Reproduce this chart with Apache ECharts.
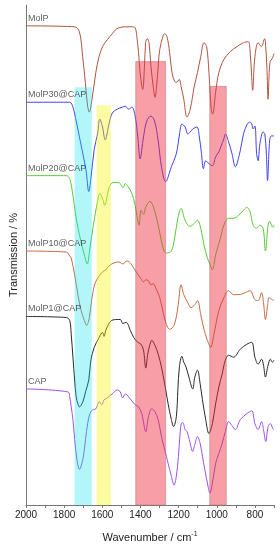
<!DOCTYPE html>
<html><head><meta charset="utf-8">
<script src="https://cdn.jsdelivr.net/npm/echarts@6/dist/echarts.min.js"></script>
<style>html,body{margin:0;padding:0;background:#fff}#c{width:280px;height:550px}</style>
</head><body><div id="c"></div>
<script>
// Series names (top to bottom)
const seriesNames = ['MolP', 'MolP30@CAP', 'MolP20@CAP', 'MolP10@CAP', 'MolP1@CAP', 'CAP'];

// [wavenumber (cm-1), offset transmission (a.u.)]
const molP = [[2000,483],[1746,482],[1720,477],[1703,452],[1689,426],[1677,402],[1668,396],[1654,409],[1634,436],[1617,452],[1599,462],[1574,469],[1548,475],[1531,479],[1514,481],[1479,482],[1445,482],[1428,481],[1419,472],[1410,456],[1402,436],[1393,422],[1388,419],[1379,442],[1373,466],[1364,470],[1355,466],[1345,442],[1333,422],[1324,411],[1311,432],[1299,459],[1281,473],[1273,475],[1261,472],[1247,456],[1235,436],[1221,427],[1210,426],[1197,429],[1187,422],[1173,409],[1156,391],[1139,399],[1118,422],[1101,436],[1084,452],[1067,466],[1053,462],[1041,436],[1029,399],[1022,394],[1006,416],[989,436],[963,449],[929,457],[895,462],[860,466],[835,467],[826,459],[817,432],[812,418],[800,452],[783,466],[766,462],[749,470],[745,467],[737,440],[731,409],[726,432],[720,447],[709,450],[700,455]];

const molP30 = [[2000,406],[1771,406],[1754,401],[1737,387],[1720,371],[1702,354],[1685,337],[1671,316],[1660,329],[1642,359],[1625,374],[1613,389],[1599,381],[1585,368],[1565,384],[1548,395],[1522,399],[1496,401],[1479,402],[1462,399],[1445,401],[1428,392],[1414,371],[1402,349],[1384,371],[1367,387],[1345,392],[1326,387],[1307,367],[1290,341],[1268,326],[1238,341],[1212,354],[1195,374],[1183,384],[1166,381],[1152,374],[1139,376],[1126,379],[1104,381],[1092,372],[1080,354],[1070,339],[1058,347],[1041,344],[1023,342],[1006,351],[989,356],[977,362],[963,369],[955,374],[938,366],[920,354],[903,341],[877,357],[860,374],[840,384],[826,386],[817,384],[809,379],[800,382],[791,354],[783,347],[774,364],[757,376],[748,374],[740,354],[734,327],[723,367],[714,372],[700,372]];

const molP20 = [[2000,332],[1789,332],[1771,329],[1754,312],[1737,289],[1716,269],[1694,252],[1679,243],[1665,259],[1647,282],[1625,306],[1613,314],[1599,309],[1587,302],[1574,312],[1562,321],[1544,325],[1513,325],[1500,322],[1491,320],[1479,324],[1465,321],[1445,314],[1428,302],[1419,292],[1407,282],[1397,297],[1384,293],[1371,301],[1350,306],[1333,301],[1307,282],[1290,266],[1276,256],[1264,254],[1238,256],[1221,269],[1204,289],[1187,299],[1170,289],[1152,282],[1135,281],[1118,284],[1101,287],[1084,279],[1067,262],[1049,249],[1032,241],[1023,237],[1006,252],[981,269],[963,282],[938,289],[912,289],[886,292],[860,297],[843,300],[826,296],[809,282],[791,279],[774,282],[757,279],[745,256],[731,282],[723,286],[706,280],[700,282]];

const molP10 = [[2000,256],[1789,255],[1771,251],[1763,249],[1745,232],[1728,212],[1711,196],[1694,186],[1682,181],[1668,189],[1654,209],[1637,224],[1616,231],[1599,235],[1582,237],[1565,241],[1539,244],[1513,245],[1493,243],[1470,246],[1453,244],[1436,239],[1419,234],[1397,228],[1384,225],[1372,227],[1358,226],[1347,222],[1333,223],[1316,217],[1299,209],[1281,194],[1264,182],[1247,177],[1224,181],[1204,199],[1187,222],[1173,212],[1152,204],[1135,199],[1115,202],[1101,206],[1084,192],[1067,177],[1049,166],[1032,159],[1015,172],[989,196],[963,209],[938,216],[912,212],[886,212],[851,214],[826,216],[800,207],[783,206],[765,214],[755,204],[745,187],[733,202],[726,209],[709,207],[700,206]];

const molP1 = [[2000,190],[1789,189],[1771,186],[1763,172],[1754,149],[1745,126],[1737,109],[1728,102],[1720,99],[1702,104],[1688,114],[1671,126],[1660,146],[1642,159],[1616,169],[1599,174],[1591,170],[1582,176],[1568,182],[1551,186],[1522,187],[1505,187],[1493,183],[1475,184],[1453,176],[1436,169],[1414,164],[1397,162],[1384,156],[1372,138],[1362,152],[1350,162],[1341,166],[1324,161],[1307,152],[1290,139],[1273,122],[1255,102],[1238,86],[1226,79],[1212,89],[1204,116],[1196,139],[1183,150],[1173,144],[1161,139],[1149,131],[1126,117],[1115,129],[1101,136],[1087,122],[1075,106],[1058,86],[1041,72],[1023,82],[1006,102],[989,119],[972,132],[955,146],[938,151],[912,149],[877,157],[843,162],[817,164],[800,149],[783,142],[765,147],[755,141],[745,129],[731,141],[719,147],[709,144],[700,146]];

const cap = [[2000,117],[1780,114],[1771,109],[1763,99],[1754,86],[1745,66],[1733,46],[1720,36],[1702,46],[1688,66],[1677,82],[1665,92],[1651,96],[1634,97],[1616,104],[1603,101],[1591,106],[1574,108],[1548,112],[1522,116],[1506,114],[1493,108],[1479,112],[1462,109],[1428,101],[1410,99],[1393,92],[1372,74],[1358,89],[1341,97],[1324,94],[1307,86],[1290,69],[1273,56],[1255,42],[1238,29],[1224,20],[1212,29],[1201,49],[1187,82],[1178,83],[1166,76],[1156,74],[1144,66],[1126,54],[1115,61],[1101,69],[1087,62],[1075,49],[1063,36],[1046,19],[1036,12],[1023,22],[1006,42],[989,52],[972,62],[955,74],[938,84],[920,80],[903,76],[877,86],[843,92],[817,95],[800,82],[783,76],[765,84],[755,76],[743,64],[731,79],[719,82],[702,76],[700,76]];

// Highlighted bands: [from cm-1, to cm-1, top value]
const cyanBand = [1745, 1655, 421];
const yellowBand = [1630, 1555, 403];
const redBands = [[1425, 1268, 447], [1037, 950, 422]];

// x-axis labelled ticks
const xTickLabels = [2000, 1800, 1600, 1400, 1200, 1000, 800];

const allSeries = [molP, molP30, molP20, molP10, molP1, cap];
const colors = ['#b25440', '#4242ea', '#58cc36', '#c86a46', '#2a2a2a', '#9b52ee'];

const font = 'Liberation Sans, Arial, sans-serif';
const chart = echarts.init(document.getElementById('c'), null, {renderer: 'canvas'});

function area(b, color, border) {
  return [{xAxis: b[0], yAxis: b[2], itemStyle: {color: color, borderColor: border || 'transparent', borderWidth: border ? 1 : 0}}, {xAxis: b[1], yAxis: 0}];
}

const series = allSeries.map((d, i) => ({
  name: seriesNames[i],
  type: 'line',
  data: d,
  showSymbol: false,
  symbol: 'none',
  smooth: 0.35,
  z: 2,
  lineStyle: {color: colors[i], width: 1},
  itemStyle: {color: colors[i]}
}));

series.push({
  name: 'bands',
  type: 'line',
  data: [],
  symbol: 'none',
  markArea: {
    silent: true,
    z: 5,
    data: [
      area(cyanBand, 'rgba(0,225,240,0.30)'),
      area(yellowBand, 'rgba(250,245,0,0.37)'),
      ...redBands.map(b => area(b, 'rgba(240,40,60,0.45)', 'rgba(170,110,110,0.45)'))
    ]
  }
});

series.push({
  name: 'labels',
  type: 'scatter',
  symbolSize: 0,
  z: 6,
  data: allSeries.map((d, i) => ({value: d[0], name: seriesNames[i]})),
  label: {
    show: true,
    formatter: '{b}',
    position: [2, -12],
    fontSize: 9,
    fontFamily: font,
    color: '#333'
  }
});

chart.setOption({
  animation: false,
  backgroundColor: '#fff',
  grid: {left: 22, right: 6, top: 5, bottom: 41, containLabel: false},
  xAxis: {
    type: 'value',
    inverse: true,
    min: 700,
    max: 2000,
    interval: 100,
    name: 'Wavenumber / cm{sup|-1}',
    nameLocation: 'middle',
    nameGap: 26,
    nameTextStyle: {
      fontSize: 11, fontFamily: font, color: '#222', lineHeight: 14,
      rich: {sup: {fontSize: 7, fontFamily: font, color: '#222', verticalAlign: 'top', lineHeight: 8}}
    },
    axisLine: {show: true, lineStyle: {color: '#777', width: 1}},
    axisTick: {show: true, length: 3, lineStyle: {color: '#777'}},
    axisLabel: {
      fontSize: 10, fontFamily: font, color: '#222', margin: 5,
      formatter: v => xTickLabels.includes(v) ? String(v) : ''
    },
    splitLine: {show: false}
  },
  yAxis: {
    type: 'value',
    min: 0,
    max: 504,
    name: 'Transmission / %',
    nameLocation: 'middle',
    nameGap: 7,
    nameRotate: 90,
    nameTextStyle: {fontSize: 11, fontFamily: font, color: '#222'},
    axisLine: {show: true, lineStyle: {color: '#777', width: 1}},
    axisTick: {show: false},
    axisLabel: {show: false},
    splitLine: {show: false}
  },
  series: series
});
</script></body></html>
